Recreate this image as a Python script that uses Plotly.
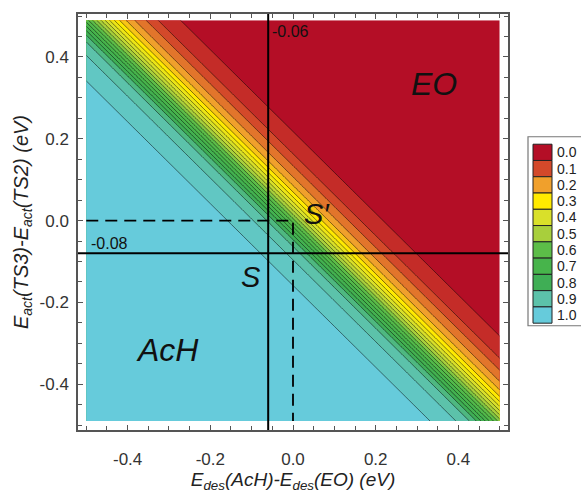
import plotly.graph_objects as go

# ---------------- data ----------------
# selectivity profile along s = x + y (contours are diagonal lines)
profile_s = [-0.27, -0.25, -0.23, -0.21, -0.19, -0.17, -0.15, -0.13, -0.11, -0.09,
             -0.07, -0.05, -0.03, -0.01, 0.01, 0.03, 0.05, 0.07, 0.09, 0.11,
             0.13, 0.15, 0.17, 0.19, 0.21, 0.23, 0.25, 0.27]
profile_v = [1.000, 0.996, 0.992, 0.988, 0.983, 0.979, 0.972, 0.958, 0.941, 0.918,
             0.892, 0.840, 0.750, 0.650, 0.550, 0.450, 0.355, 0.275, 0.212, 0.168,
             0.133, 0.095, 0.065, 0.046, 0.030, 0.017, 0.008, 0.003]

x_grid = [round(-0.50 + 0.02 * j, 2) for j in range(51)]
y_grid = [round(-0.49 + 0.02 * i, 2) for i in range(50)]

legend_values = [0.0, 0.1, 0.2, 0.3, 0.4, 0.5, 0.6, 0.7, 0.8, 0.9, 1.0]
legend_labels = ["0.0", "0.1", "0.2", "0.3", "0.4", "0.5", "0.6", "0.7", "0.8", "0.9", "1.0"]
legend_colors = ["#B40E26", "#D3492A", "#F0A02C", "#FFEA00", "#D9E02A", "#A8CF3C",
                 "#5CBD48", "#47B44B", "#3FAE55", "#5CC2AA", "#66CBDB"]

tick_vals = [-0.4, -0.2, 0.0, 0.2, 0.4]
tick_text = ["-0.4", "-0.2", "0.0", "0.2", "0.4"]

S_point = (-0.06, -0.08)     # solid cross-hair
S_prime = (0.0, 0.0)         # dashed cross-hair
region_labels = [("EO", 0.342, 0.333), ("AcH", -0.304, -0.317)]

# ---------------- build grid z by lookup of the read profile ----------------
lookup = {round(s, 2): v for s, v in zip(profile_s, profile_v)}
s_min, s_max = min(profile_s), max(profile_s)
z = []
for yv in y_grid:
    row = []
    for xv in x_grid:
        s = round(xv + yv, 2)
        if s < s_min:
            row.append(1.0)
        elif s > s_max:
            row.append(0.0)
        else:
            row.append(lookup[s])
    z.append(row)

colorscale = [[v, c] for v, c in zip(legend_values, legend_colors)]

fig = go.Figure()
fig.add_trace(go.Contour(
    x=x_grid, y=y_grid, z=z,
    colorscale=colorscale, zmin=0, zmax=1,
    autocontour=False,
    contours=dict(start=0.025, end=0.975, size=0.05, coloring="fill"),
    line=dict(color="rgba(0,0,0,0.7)", width=0.7),
    showscale=False, hoverinfo="skip",
))

# dashed lines through S'
fig.add_trace(go.Scatter(
    x=[x_grid[0], S_prime[0], S_prime[0]],
    y=[S_prime[1], S_prime[1], y_grid[0]],
    mode="lines", line=dict(color="black", width=1.8, dash="12px,7px"),
    showlegend=False, hoverinfo="skip",
))

shapes = [
    dict(type="line", xref="x", yref="paper", x0=S_point[0], x1=S_point[0], y0=0, y1=1,
         line=dict(color="black", width=2)),
    dict(type="line", xref="paper", yref="y", x0=0, x1=1, y0=S_point[1], y1=S_point[1],
         line=dict(color="black", width=2)),
]

FONT = "Arial, Liberation Sans, sans-serif"
annotations = [
    dict(x=S_point[0] + 0.004, y=0.462, xref="x", yref="y", text="-0.06", showarrow=False,
         xanchor="left", yanchor="middle", font=dict(size=16, color="#111", family=FONT)),
    dict(x=-0.494, y=-0.056, xref="x", yref="y", text="-0.08", showarrow=False,
         xanchor="left", yanchor="middle", font=dict(size=16, color="#111", family=FONT)),
    dict(x=-0.101, y=-0.138, xref="x", yref="y", text="<i>S</i>", showarrow=False,
         font=dict(size=29, color="#111", family=FONT)),
    dict(x=0.058, y=0.017, xref="x", yref="y", text="<i>S\u2032</i>", showarrow=False,
         font=dict(size=29, color="#111", family=FONT)),
]
for name, lx, ly in region_labels:
    annotations.append(dict(x=lx, y=ly, xref="x", yref="y", text=f"<i>{name}</i>",
                            showarrow=False, font=dict(size=32, color="#111", family=FONT)))

# ---------------- discrete legend box (right side) ----------------
W, H = 581, 496
L, R, T, B = 78, 73, 13, 56
pw, ph = W - L - R, H - T - B


def px2paper_x(px):
    return (px - L) / pw


def px2paper_y(py):
    return (H - B - py) / ph


shapes.append(dict(type="rect", xref="paper", yref="paper",
                   x0=px2paper_x(528), x1=px2paper_x(590),
                   y0=px2paper_y(333), y1=px2paper_y(139),
                   line=dict(color="#777", width=1.2), fillcolor="white", layer="below"))
step = 16.7
for i, (lab, col) in enumerate(zip(legend_labels, legend_colors)):
    cy = 155 + step * i
    shapes.append(dict(type="rect", xref="paper", yref="paper",
                       x0=px2paper_x(533), x1=px2paper_x(552),
                       y0=px2paper_y(cy + step / 2), y1=px2paper_y(cy - step / 2),
                       line=dict(color="#222", width=1), fillcolor=col))
    annotations.append(dict(xref="paper", yref="paper", x=px2paper_x(555), y=px2paper_y(cy),
                            text=lab, showarrow=False, xanchor="left", yanchor="middle",
                            font=dict(size=14, color="#222", family=FONT)))

axis_common = dict(
    showline=True, linecolor="#555", linewidth=1.5, mirror="allticks",
    ticks="inside", ticklen=5, tickcolor="#555", tickwidth=1,
    showgrid=False, zeroline=False,
    tickfont=dict(size=17, color="#333", family=FONT),
    minor=dict(dtick=0.05, ticks="inside", ticklen=4, tickcolor="#555", showgrid=False),
    tickmode="array", tickvals=tick_vals, ticktext=tick_text,
)

fig.update_layout(
    width=W, height=H,
    margin=dict(l=L, r=R, t=T, b=B),
    paper_bgcolor="white", plot_bgcolor="white",
    showlegend=False,
    xaxis=dict(range=[-0.52, 0.52], title=dict(
        text="<i>E<sub>des</sub>(AcH)-E<sub>des</sub>(EO) (eV)</i>",
        font=dict(size=19, color="#222", family=FONT), standoff=2),
        ticklabelstandoff=13, **axis_common),
    yaxis=dict(range=[-0.512, 0.505], title=dict(
        text="<i>E<sub>act</sub>(TS3)-E<sub>act</sub>(TS2) (eV)</i>",
        font=dict(size=20, color="#222", family=FONT), standoff=6),
        ticklabelstandoff=4, **axis_common),
    shapes=shapes, annotations=annotations,
)

fig.write_html("out.html")
